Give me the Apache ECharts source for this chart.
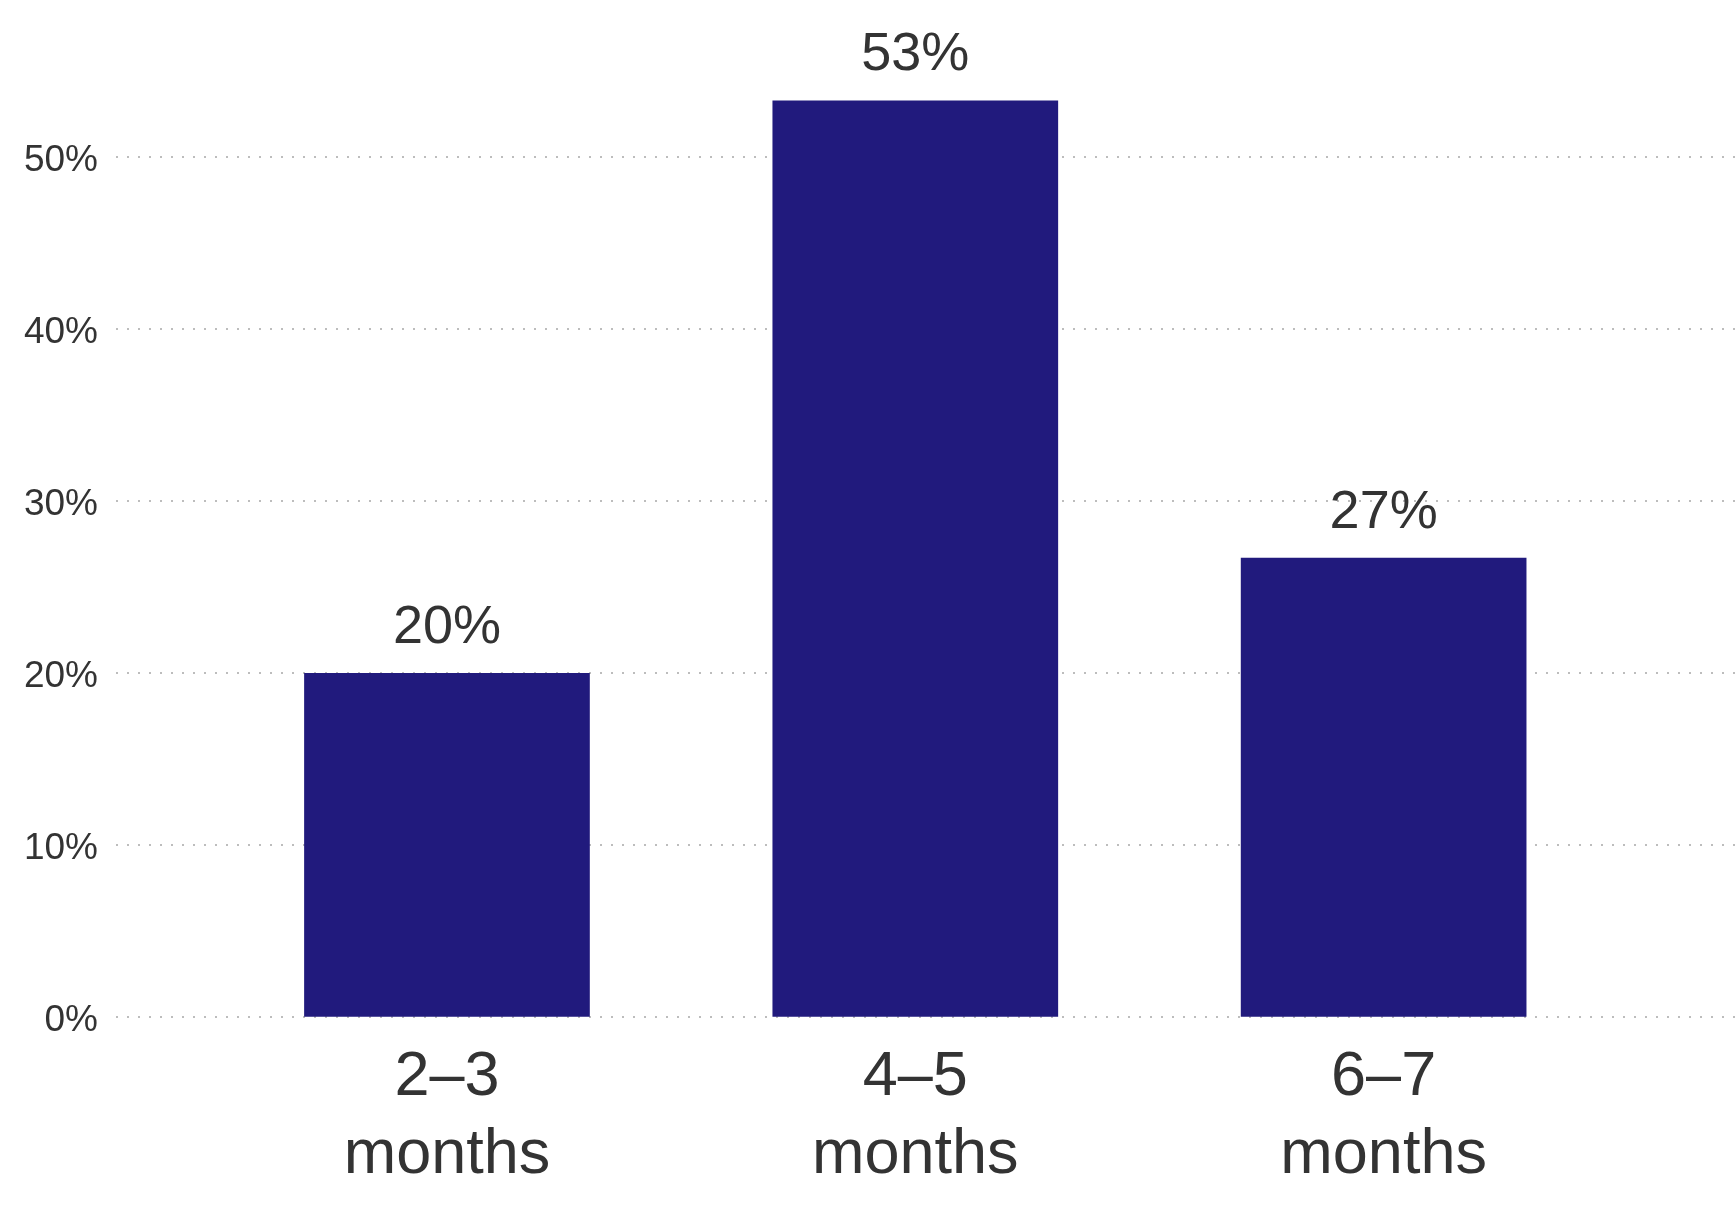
<!DOCTYPE html>
<html>
<head>
<meta charset="utf-8">
<script src="https://cdn.jsdelivr.net/npm/echarts@6/dist/echarts.min.js"></script>
<style>
html,body{margin:0;padding:0;background:#fff;}
#chart{width:1736px;height:1226px;}
</style>
</head>
<body>
<div id="chart"></div>
<script>
const categories = ['2–3\nmonths', '4–5\nmonths', '6–7\nmonths'];
const shares = [20, 53.3, 26.7];
const yTicks = [0, 10, 20, 30, 40, 50];

const FONT = '"Liberation Sans", Arial, sans-serif';
const TEXT = '#333333';
const BAR = '#211A7D';
const Y_MAX = 56;

const chart = echarts.init(document.getElementById('chart'), null, {renderer: 'canvas'});
chart.setOption({
  animation: false,
  backgroundColor: '#ffffff',
  textStyle: {fontFamily: FONT},
  grid: [
    {left: 116, right: 0, top: 54, bottom: 209.3, containLabel: false},
    {left: 212.8, right: 118.2, top: 54, bottom: 209.3, containLabel: false}
  ],
  xAxis: [
    {gridIndex: 0, type: 'category', data: categories, show: false},
    {
      gridIndex: 1, type: 'category', data: categories,
      axisLine: {show: false}, axisTick: {show: false},
      axisLabel: {fontSize: 63, lineHeight: 78, color: TEXT, margin: 22, fontFamily: FONT, interval: 0}
    }
  ],
  yAxis: [
    {
      gridIndex: 0, type: 'value', min: yTicks[0], max: Y_MAX, interval: yTicks[1] - yTicks[0],
      axisLine: {show: false}, axisTick: {show: false},
      axisLabel: {
        fontSize: 37, color: TEXT, margin: 18, fontFamily: FONT, showMaxLabel: false,
        formatter: v => (yTicks.indexOf(v) >= 0 ? '{t|' + v + '%}' : ''),
        rich: {t: {fontSize: 37, color: TEXT, fontFamily: FONT, padding: [8, 0, 0, 0]}}
      },
      splitLine: {show: true, showMaxLine: false, lineStyle: {color: '#bdbdbd', width: 2, type: [2, 9]}}
    },
    {gridIndex: 1, type: 'value', min: yTicks[0], max: Y_MAX, show: false, splitLine: {show: false}}
  ],
  series: [{
    type: 'bar',
    xAxisIndex: 1, yAxisIndex: 1,
    data: shares,
    barWidth: '61%',
    itemStyle: {color: BAR},
    label: {
      show: true, position: 'top', distance: 18,
      fontSize: 54, color: TEXT, fontFamily: FONT,
      formatter: p => Math.round(p.value) + '%'
    }
  }]
});
</script>
</body>
</html>
